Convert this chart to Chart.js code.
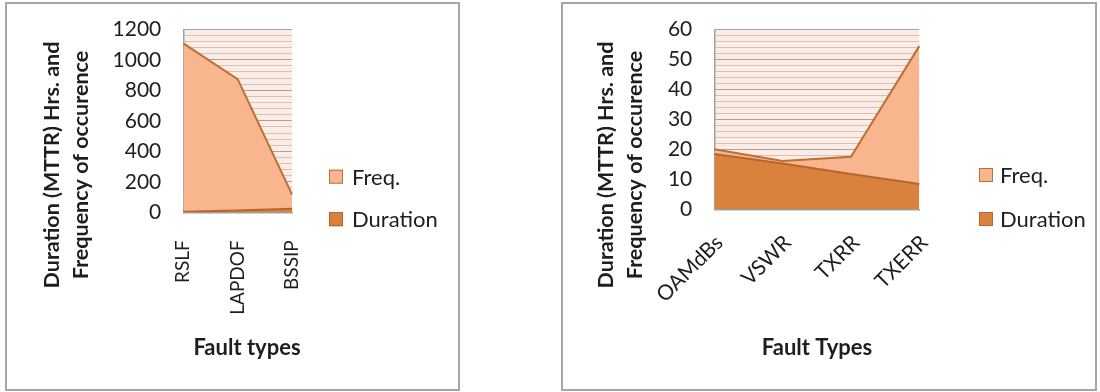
<!DOCTYPE html>
<html>
<head>
<meta charset="utf-8">
<script src="https://cdn.jsdelivr.net/npm/chart.js@4.4.1/dist/chart.umd.min.js"></script>
<style>
  html, body { margin: 0; padding: 0; background: #ffffff; }
  body { position: relative; width: 1100px; height: 392px; overflow: hidden; }
  .panel { position: absolute; box-sizing: border-box; border: 2px solid #a6a6a6; background: #ffffff; }
  #p1 { left: 5px; top: 2px; width: 455px; height: 389px; }
  #p2 { left: 561px; top: 2px; width: 536px; height: 389px; }
  canvas { display: block; }
</style>
</head>
<body>
<div class="panel" id="p1"><canvas id="c1" width="451" height="385"></canvas></div>
<div class="panel" id="p2"><canvas id="c2" width="532" height="385"></canvas></div>
<script>
// Fault statistics: frequency of occurrence and mean time to repair (hours)

// Panel 1
const faults1 = ['RSLF', 'LAPDOF', 'BSSIP'];
const freq1 = [1108, 873, 118];
const duration1 = [4, 12, 24];
const yTicks1 = [0, 200, 400, 600, 800, 1000, 1200];

// Panel 2
const faults2 = ['OAMdBs', 'VSWR', 'TXRR', 'TXERR'];
const freq2 = [20, 16.1, 17.5, 54.4];
const duration2 = [18.4, 15.3, 11.8, 8.4];
const yTicks2 = [0, 10, 20, 30, 40, 50, 60];

const seriesNames = ['Duration', 'Freq.'];
const yTitleLines = ['Duration (MTTR) Hrs. and', 'Frequency of occurence'];

const COLORS = {
  freqFill: '#f9b58e',
  freqLine: '#bd6f34',
  durFill: '#d9823e',
  durLine: '#b5662c',
  plotBg: '#fdece4',
  majorGrid: '#aaa29e',
  minorGrid: '#cbc4c0',
  axis: '#a0a0a0',
  text: '#1e1e1e'
};
const FONT = 'Lato, "Open Sans", "DejaVu Sans", sans-serif';

// Plot background, rotated y title, x title and a right-hand legend
const decorPlugin = {
  id: 'decor',
  beforeDraw(chart, args, o) {
    const { ctx, chartArea: a } = chart;
    ctx.save();
    ctx.fillStyle = COLORS.plotBg;
    ctx.fillRect(a.left, a.top, a.right - a.left, a.bottom - a.top);
    ctx.restore();
  },
  afterDraw(chart, args, o) {
    const { ctx } = chart;
    ctx.save();
    ctx.fillStyle = COLORS.text;
    ctx.textAlign = 'center';
    ctx.textBaseline = 'middle';
    // y title (two lines, reading bottom to top)
    ctx.font = 'bold ' + o.yTitleSize + 'px ' + FONT;
    o.yTitle.forEach((line, i) => {
      ctx.save();
      ctx.translate(o.yTitleX + i * o.yTitleGap, o.yTitleY);
      ctx.rotate(-Math.PI / 2);
      ctx.fillText(line, 0, 0);
      ctx.restore();
    });
    // x title
    ctx.font = 'bold ' + o.xTitleSize + 'px ' + FONT;
    ctx.fillText(o.xTitle, o.xTitleX, o.xTitleY);
    // legend (top series first)
    ctx.font = o.legendSize + 'px ' + FONT;
    ctx.textAlign = 'left';
    const ds = chart.data.datasets.slice().reverse();
    ds.forEach((d, i) => {
      const cy = o.legendY + i * o.legendGap;
      const s = o.legendBox;
      ctx.fillStyle = d.backgroundColor;
      ctx.fillRect(o.legendX, cy - s / 2, s, s);
      ctx.strokeStyle = d.borderColor;
      ctx.lineWidth = 1;
      ctx.strokeRect(o.legendX + 0.5, cy - s / 2 + 0.5, s - 1, s - 1);
      ctx.fillStyle = COLORS.text;
      ctx.fillText(d.label, o.legendTextX, cy + 1);
    });
    ctx.restore();
  }
};

function minorTicks(majors, parts) {
  const out = [];
  for (let i = 0; i < majors.length - 1; i++) {
    const step = (majors[i + 1] - majors[i]) / parts;
    for (let k = 0; k < parts; k++) out.push(majors[i] + k * step);
  }
  out.push(majors[majors.length - 1]);
  return out;
}

function makeChart(id, cfg) {
  const canvas = document.getElementById(id);
  const W = canvas.width, H = canvas.height;
  const box = {
    padTop: cfg.area.top,
    padRight: W - cfg.area.right,
    yWidth: cfg.area.left,
    xHeight: H - cfg.area.bottom
  };
  const gridValues = minorTicks(cfg.yTicks, 5);
  const chart = new Chart(canvas, {
    type: 'line',
    data: {
      labels: cfg.labels,
      datasets: [
        {
          label: seriesNames[0],
          data: cfg.duration,
          backgroundColor: COLORS.durFill,
          borderColor: COLORS.durLine,
          borderWidth: 2,
          fill: 'origin',
          tension: 0,
          pointRadius: 0
        },
        {
          label: seriesNames[1],
          data: cfg.freq,
          backgroundColor: COLORS.freqFill,
          borderColor: COLORS.freqLine,
          borderWidth: 2,
          fill: 'origin',
          tension: 0,
          pointRadius: 0
        }
      ]
    },
    options: {
      responsive: false,
      animation: false,
      devicePixelRatio: 1,
      layout: { padding: { top: box.padTop, right: box.padRight, bottom: 0, left: 0 } },
      plugins: {
        legend: { display: false },
        tooltip: { enabled: false },
        decor: cfg.decor
      },
      scales: {
        x: {
          offset: false,
          afterFit: axis => { axis.height = box.xHeight; },
          grid: { display: false, drawTicks: false },
          border: { display: true, color: COLORS.axis, width: 1.5 },
          ticks: {
            autoSkip: false,
            minRotation: cfg.rotation,
            maxRotation: cfg.rotation,
            padding: cfg.xPad,
            labelOffset: cfg.labelOffset,
            color: COLORS.text,
            font: { family: FONT, size: cfg.xFontSize }
          }
        },
        y: {
          min: cfg.yTicks[0],
          max: cfg.yTicks[cfg.yTicks.length - 1],
          afterBuildTicks: axis => { axis.ticks = gridValues.map(v => ({ value: v })); },
          afterFit: axis => { axis.width = box.yWidth; },
          grid: {
            drawTicks: true,
            tickLength: 19,
            tickColor: 'rgba(0,0,0,0)',
            lineWidth: 1,
            color: c => cfg.yTicks.includes(c.tick.value) ? COLORS.majorGrid : COLORS.minorGrid
          },
          border: { display: true, color: COLORS.axis, width: 1.5 },
          ticks: {
            autoSkip: false,
            padding: 3,
            color: COLORS.text,
            font: { family: FONT, size: 21 },
            callback: v => cfg.yTicks.includes(v) ? String(v) : ''
          }
        }
      }
    },
    plugins: [decorPlugin]
  });

  // nudge the layout until the plot area sits where it should
  for (let i = 0; i < 5; i++) {
    const a = chart.chartArea;
    const dT = cfg.area.top - a.top, dB = cfg.area.bottom - a.bottom;
    const dL = cfg.area.left - a.left, dR = cfg.area.right - a.right;
    if (Math.max(Math.abs(dT), Math.abs(dB), Math.abs(dL), Math.abs(dR)) < 0.2) break;
    box.padTop += dT;
    box.xHeight -= dB;
    box.yWidth += dL;
    box.padRight -= dR;
    chart.options.layout.padding = { top: box.padTop, right: box.padRight, bottom: 0, left: 0 };
    chart.update();
  }
  return chart;
}

makeChart('c1', {
  labels: faults1, freq: freq1, duration: duration1, yTicks: yTicks1,
  area: { left: 176.3, top: 25.3, right: 285, bottom: 208.3 },
  rotation: 90, xPad: 28, labelOffset: 0, xFontSize: 19,
  decor: {
    yTitle: yTitleLines, yTitleX: 45, yTitleGap: 29, yTitleY: 161, yTitleSize: 21.5,
    xTitle: 'Fault types', xTitleX: 240, xTitleY: 344, xTitleSize: 22,
    legendX: 322, legendTextX: 345, legendY: 172.7, legendGap: 42.5, legendBox: 14, legendSize: 22
  }
});

makeChart('c2', {
  labels: faults2, freq: freq2, duration: duration2, yTicks: yTicks2,
  area: { left: 151.3, top: 25.3, right: 356.3, bottom: 205.3 },
  rotation: 45, xPad: 21, labelOffset: 5, xFontSize: 21,
  decor: {
    yTitle: yTitleLines, yTitleX: 43.5, yTitleGap: 29, yTitleY: 161, yTitleSize: 21.5,
    xTitle: 'Fault Types', xTitleX: 254, xTitleY: 344, xTitleSize: 22,
    legendX: 416, legendTextX: 437, legendY: 171, legendGap: 44, legendBox: 14, legendSize: 22
  }
});
</script>
</body>
</html>
